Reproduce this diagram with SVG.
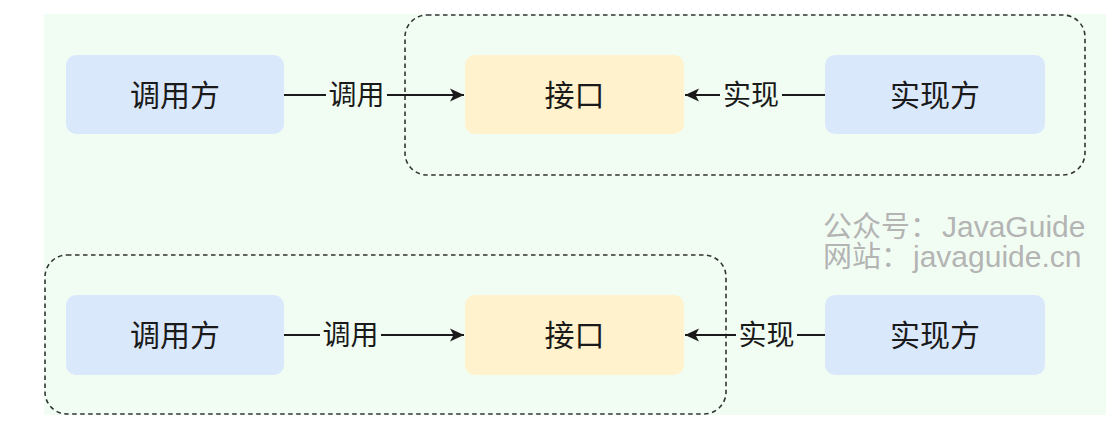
<svg xmlns="http://www.w3.org/2000/svg" width="1106" height="430" viewBox="0 0 1106 430">
<style>
.node text{font-family:"Noto Sans CJK SC","Noto Sans",sans-serif;font-size:30px;fill:#1a1a1a;text-anchor:middle}
.caller rect,.impl rect{fill:#dae8fc}
.iface rect{fill:#fff2cc}
.group{fill:none;stroke:#333;stroke-width:1.6;stroke-dasharray:4.5 3.5}
.edge line{stroke:#1a1a1a;stroke-width:2}
.lbl{font-family:"Noto Sans CJK SC","Noto Sans",sans-serif;font-size:28px;fill:#1a1a1a;text-anchor:middle}
.wm{font-family:"Noto Sans CJK SC","Liberation Sans",sans-serif;font-size:29px;fill:#b4b4b4}
.wm .lat{font-family:"Liberation Sans","Noto Sans CJK SC",sans-serif;font-size:30px}
</style>
<defs>
<marker id="arr" markerUnits="userSpaceOnUse" markerWidth="16" markerHeight="16" viewBox="0 0 16 16" refX="15" refY="8" orient="auto">
<path d="M1,1.5 L15,8 L1,14.5 L4.5,8 Z" fill="#1a1a1a"/>
</marker>
</defs>
<rect x="44" y="14" width="1062" height="401" fill="#f1fdf3"/>
<g id="groups">
<rect id="group-top" class="group" x="405" y="15" width="680" height="160" rx="22"/>
<rect id="group-bottom" class="group" x="45" y="255" width="681" height="159" rx="22"/>
</g>
<g id="watermark" class="wm">
<text x="823" y="237">公众号：<tspan class="lat" x="942">JavaGuide</tspan></text>
<text x="823" y="267">网站：<tspan class="lat" x="913">javaguide.cn</tspan></text>
</g>
<g id="caller-top" class="node caller"><rect x="66" y="55" width="218" height="79" rx="10"/><text x="175" y="106">调用方</text></g>
<g id="iface-top" class="node iface"><rect x="465" y="55" width="219" height="79" rx="10"/><text x="574.5" y="106">接口</text></g>
<g id="impl-top" class="node impl"><rect x="825" y="55" width="220" height="79" rx="10"/><text x="935" y="106">实现方</text></g>
<g id="caller-bottom" class="node caller"><rect x="66" y="295" width="218" height="80" rx="10"/><text x="175" y="346">调用方</text></g>
<g id="iface-bottom" class="node iface"><rect x="465" y="295" width="219" height="80" rx="10"/><text x="574.5" y="346">接口</text></g>
<g id="impl-bottom" class="node impl"><rect x="825" y="295" width="220" height="80" rx="10"/><text x="935" y="346">实现方</text></g>
<g id="connectors" class="edge">
<line x1="284" y1="95" x2="326" y2="95"/>
<line x1="387" y1="95" x2="464" y2="95" marker-end="url(#arr)"/>
<text class="lbl" x="356.5" y="105">调用</text>
<line x1="825" y1="95" x2="782" y2="95"/>
<line x1="720" y1="95" x2="685" y2="95" marker-end="url(#arr)"/>
<text class="lbl" x="751" y="105">实现</text>
<line x1="284" y1="335" x2="320" y2="335"/>
<line x1="381" y1="335" x2="464" y2="335" marker-end="url(#arr)"/>
<text class="lbl" x="350.5" y="345">调用</text>
<line x1="825" y1="335" x2="797" y2="335"/>
<line x1="736" y1="335" x2="685" y2="335" marker-end="url(#arr)"/>
<text class="lbl" x="766.5" y="345">实现</text>
</g>
</svg>
